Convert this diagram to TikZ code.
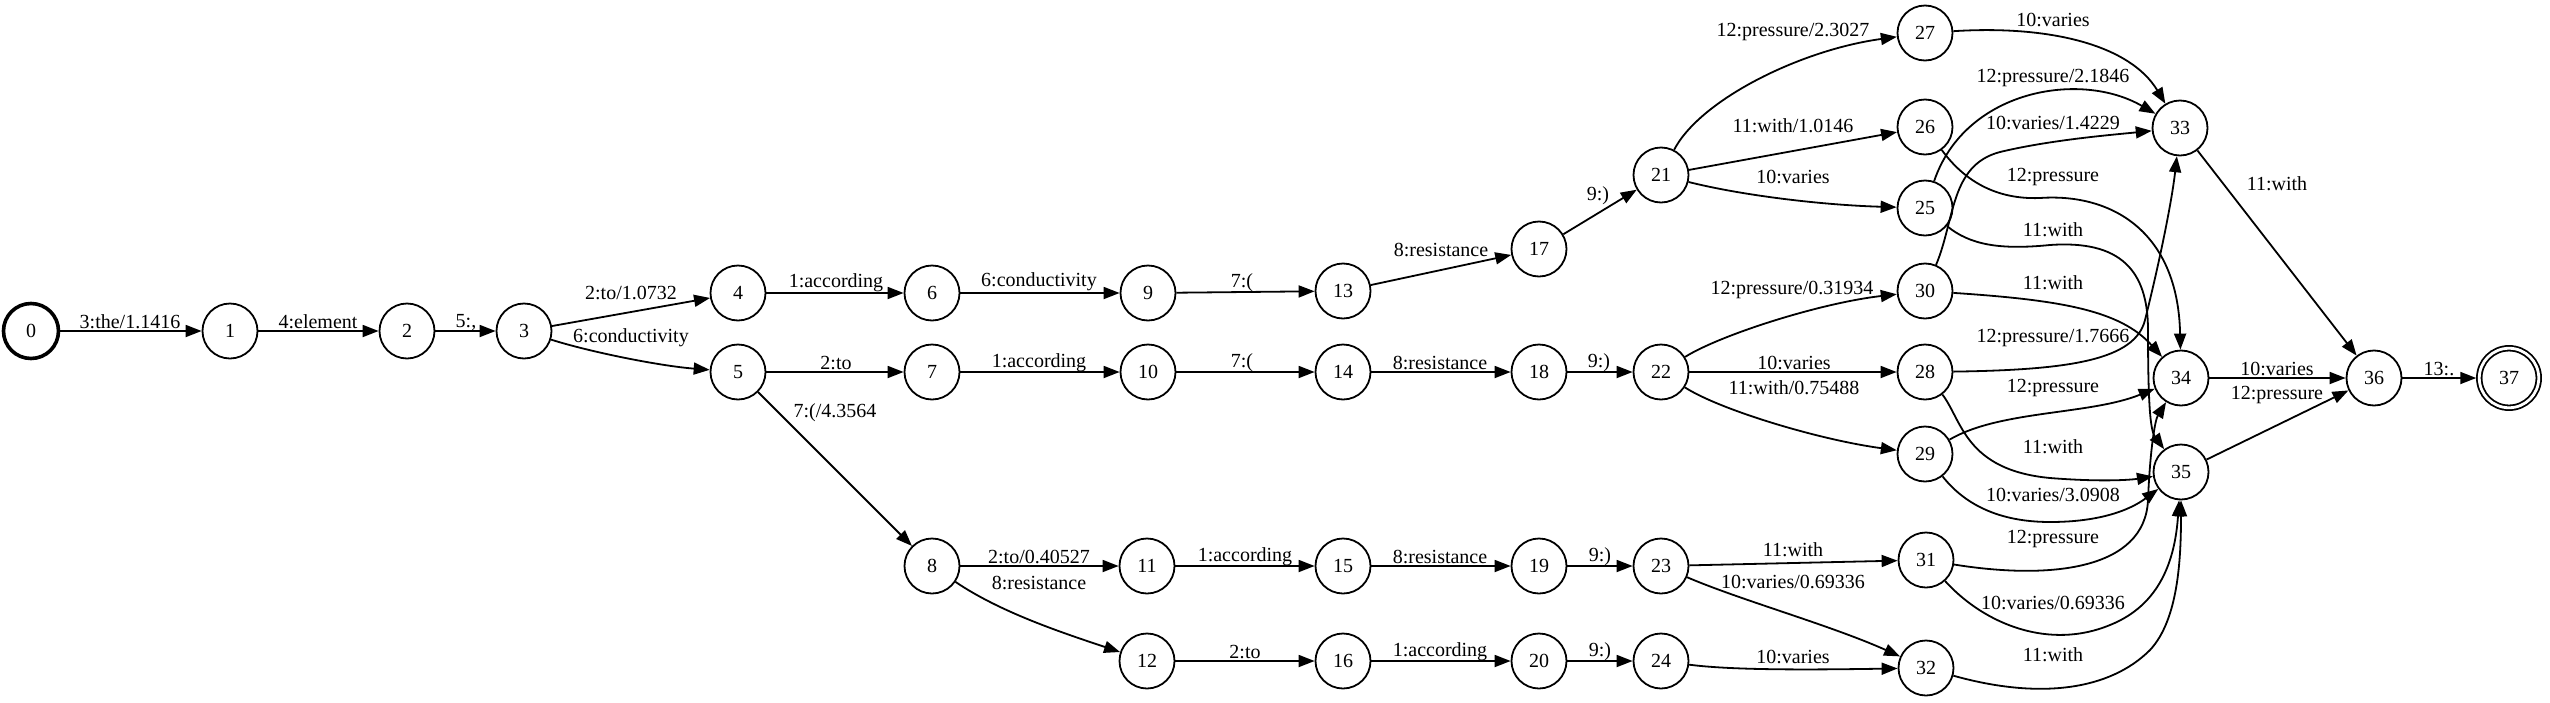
\documentclass[tikz,border=0pt]{standalone}
\usepackage{fontspec}
\setmainfont{Liberation Serif}
\usetikzlibrary{arrows.meta}
\begin{document}
\begin{tikzpicture}[x=0.5pt,y=-0.5pt,
  st/.style={circle, draw, line width=0.9pt, minimum size=27.5pt, inner sep=0pt, font=\fontsize{10}{12}\selectfont},
  startst/.style={st, line width=1.8pt},
  finalst/.style={st, double, double distance=1.4pt, minimum size=29.75pt, outer sep=1.5pt},
  lbl/.style={inner sep=0pt, font=\fontsize{10}{12}\selectfont},
  e/.style={-{Triangle[length=8pt,width=6pt]}, line width=0.9pt}
]
\useasboundingbox (0,0) rectangle (2550,702);
% states
\node[startst] (n0) at (31,331) {0};
\node[st] (n1) at (230,331) {1};
\node[st] (n2) at (407,331) {2};
\node[st] (n3) at (524,331) {3};
\node[st] (n4) at (738,293) {4};
\node[st] (n5) at (738,372) {5};
\node[st] (n6) at (932,293) {6};
\node[st] (n7) at (932,372) {7};
\node[st] (n8) at (932,566) {8};
\node[st] (n9) at (1148,293) {9};
\node[st] (n10) at (1148,372) {10};
\node[st] (n11) at (1147,566) {11};
\node[st] (n12) at (1147,661) {12};
\node[st] (n13) at (1343,291) {13};
\node[st] (n14) at (1343,372) {14};
\node[st] (n15) at (1343,566) {15};
\node[st] (n16) at (1343,661) {16};
\node[st] (n17) at (1539,249) {17};
\node[st] (n18) at (1539,372) {18};
\node[st] (n19) at (1539,566) {19};
\node[st] (n20) at (1539,661) {20};
\node[st] (n21) at (1661,175) {21};
\node[st] (n22) at (1661,372) {22};
\node[st] (n23) at (1661,566) {23};
\node[st] (n24) at (1661,661) {24};
\node[st] (n27) at (1925,33) {27};
\node[st] (n26) at (1925,127) {26};
\node[st] (n25) at (1925,208) {25};
\node[st] (n30) at (1925,291) {30};
\node[st] (n28) at (1925,372) {28};
\node[st] (n29) at (1925,454) {29};
\node[st] (n31) at (1926,560) {31};
\node[st] (n32) at (1926,668) {32};
\node[st] (n33) at (2180,128) {33};
\node[st] (n34) at (2181,378) {34};
\node[st] (n35) at (2181,472) {35};
\node[st] (n36) at (2374,378) {36};
\node[finalst] (n37) at (2509,378) {37};
% straight edges
\draw[e] (n0) -- (n1);
\draw[e] (n1) -- (n2);
\draw[e] (n2) -- (n3);
\draw[e] (n3) -- (n4);
\draw[e] (n3) .. controls (590,352) and (660,366) .. (n5);
\draw[e] (n4) -- (n6);
\draw[e] (n6) -- (n9);
\draw[e] (n9) -- (n13);
\draw[e] (n13) -- (n17);
\draw[e] (n17) -- (n21);
\draw[e] (n5) -- (n7);
\draw[e] (n7) -- (n10);
\draw[e] (n10) -- (n14);
\draw[e] (n14) -- (n18);
\draw[e] (n18) -- (n22);
\draw[e] (n5) -- (n8);
\draw[e] (n8) -- (n11);
\draw[e] (n8) .. controls (1000,612) and (1060,632) .. (n12);
\draw[e] (n11) -- (n15);
\draw[e] (n15) -- (n19);
\draw[e] (n19) -- (n23);
\draw[e] (n12) -- (n16);
\draw[e] (n16) -- (n20);
\draw[e] (n20) -- (n24);
% 21
\draw[e] (n21) .. controls (1700,100) and (1800,50) .. (n27);
\draw[e] (n21) -- (n26);
\draw[e] (n21) .. controls (1740,195) and (1820,205) .. (n25);
% 22
\draw[e] (n22) .. controls (1720,335) and (1820,303) .. (n30);
\draw[e] (n22) -- (n28);
\draw[e] (n22) .. controls (1720,410) and (1820,440) .. (n29);
% 23, 24
\draw[e] (n23) -- (n31);
\draw[e] (n23) .. controls (1740,600) and (1830,625) .. (n32);
\draw[e] (n24) .. controls (1730,670) and (1800,670) .. (n32);
% into 33
\draw[e] (n27) .. controls (2050,25) and (2130,45) .. (n33);
\draw[e] (n25) .. controls (1965,90) and (2080,70) .. (n33);
\draw[e] (n30) .. controls (1955,220) and (1950,165) .. (2000,152) .. controls (2050,140) and (2110,135) .. (n33);
\draw[e] (n28) .. controls (2070,370) and (2135,360) .. (2145,320) .. controls (2160,260) and (2172,200) .. (n33);
% into 34
\draw[e] (n26) .. controls (1960,175) and (1990,200) .. (2040,198) .. controls (2110,193) and (2178,230) .. (n34);
\draw[e] (n30) .. controls (2060,300) and (2120,310) .. (n34);
\draw[e] (n29) .. controls (2000,410) and (2090,415) .. (n34);
\draw[e] (n31) .. controls (2050,580) and (2145,570) .. (2148,500) .. controls (2150,450) and (2155,420) .. (n34);
% into 35
\draw[e] (n25) .. controls (1970,245) and (2000,250) .. (2050,245) .. controls (2120,240) and (2148,270) .. (2148,330) .. controls (2148,400) and (2150,430) .. (n35);
\draw[e] (n28) .. controls (1962,420) and (1965,470) .. (2050,478) .. controls (2100,482) and (2130,480) .. (n35);
\draw[e] (n29) .. controls (1965,505) and (2000,522) .. (2050,522) .. controls (2100,522) and (2130,510) .. (n35);
\draw[e] (n31) .. controls (1985,625) and (2050,650) .. (2110,625) .. controls (2160,605) and (2175,560) .. (n35);
\draw[e] (n32) .. controls (2040,700) and (2110,690) .. (2150,650) .. controls (2178,620) and (2181,560) .. (n35);
% final
\draw[e] (n33) -- (n36);
\draw[e] (n34) -- (n36);
\draw[e] (n35) -- (n36);
\draw[e] (n36) -- (n37);
% labels
\node[lbl] (l0) at (130,322) {3:the/1.1416};
\node[lbl] (l1) at (318,322) {4:element};
\node[lbl] (l2) at (466,322) {5:,};
\node[lbl] (l3) at (631,293) {2:to/1.0732};
\node[lbl] (l4) at (631,338) {6:conductivity};
\node[lbl] (l5) at (836,283) {1:according};
\node[lbl] (l6) at (1039,282) {6:conductivity};
\node[lbl] (l7) at (1242,283) {7:(};
\node[lbl] (l8) at (1441,250) {8:resistance};
\node[lbl] (l9) at (1598,196) {9:)};
\node[lbl] (l10) at (836,363) {2:to};
\node[lbl] (l11) at (1039,363) {1:according};
\node[lbl] (l12) at (1242,363) {7:(};
\node[lbl] (l13) at (1440,363) {8:resistance};
\node[lbl] (l14) at (1599,363) {9:)};
\node[lbl] (l15) at (835,413) {7:(/4.3564};
\node[lbl] (l16) at (1039,557) {2:to/0.40527};
\node[lbl] (l17) at (1039,583) {8:resistance};
\node[lbl] (l18) at (1245,557) {1:according};
\node[lbl] (l19) at (1440,557) {8:resistance};
\node[lbl] (l20) at (1600,557) {9:)};
\node[lbl] (l21) at (1245,652) {2:to};
\node[lbl] (l22) at (1440,652) {1:according};
\node[lbl] (l23) at (1600,652) {9:)};
\node[lbl] (l24) at (1793,32) {12:pressure/2.3027};
\node[lbl] (l25) at (1793,126) {11:with/1.0146};
\node[lbl] (l26) at (1793,177) {10:varies};
\node[lbl] (l27) at (1792,290) {12:pressure/0.31934};
\node[lbl] (l28) at (1794,363) {10:varies};
\node[lbl] (l29) at (1794,388) {11:with/0.75488};
\node[lbl] (l30) at (1793,550) {11:with};
\node[lbl] (l31) at (1793,582) {10:varies/0.69336};
\node[lbl] (l32) at (1793,657) {10:varies};
\node[lbl] (l33) at (2053,20) {10:varies};
\node[lbl] (l34) at (2053,78) {12:pressure/2.1846};
\node[lbl] (l35) at (2053,123) {10:varies/1.4229};
\node[lbl] (l36) at (2053,177) {12:pressure};
\node[lbl] (l37) at (2053,230) {11:with};
\node[lbl] (l38) at (2053,283) {11:with};
\node[lbl] (l39) at (2053,338) {12:pressure/1.7666};
\node[lbl] (l40) at (2053,388) {12:pressure};
\node[lbl] (l41) at (2053,447) {11:with};
\node[lbl] (l42) at (2053,495) {10:varies/3.0908};
\node[lbl] (l43) at (2053,539) {12:pressure};
\node[lbl] (l44) at (2053,603) {10:varies/0.69336};
\node[lbl] (l45) at (2053,655) {11:with};
\node[lbl] (l46) at (2277,184) {11:with};
\node[lbl] (l47) at (2277,369) {10:varies};
\node[lbl] (l48) at (2277,395) {12:pressure};
\node[lbl] (l49) at (2439,369) {13:.};
\end{tikzpicture}
\end{document}
